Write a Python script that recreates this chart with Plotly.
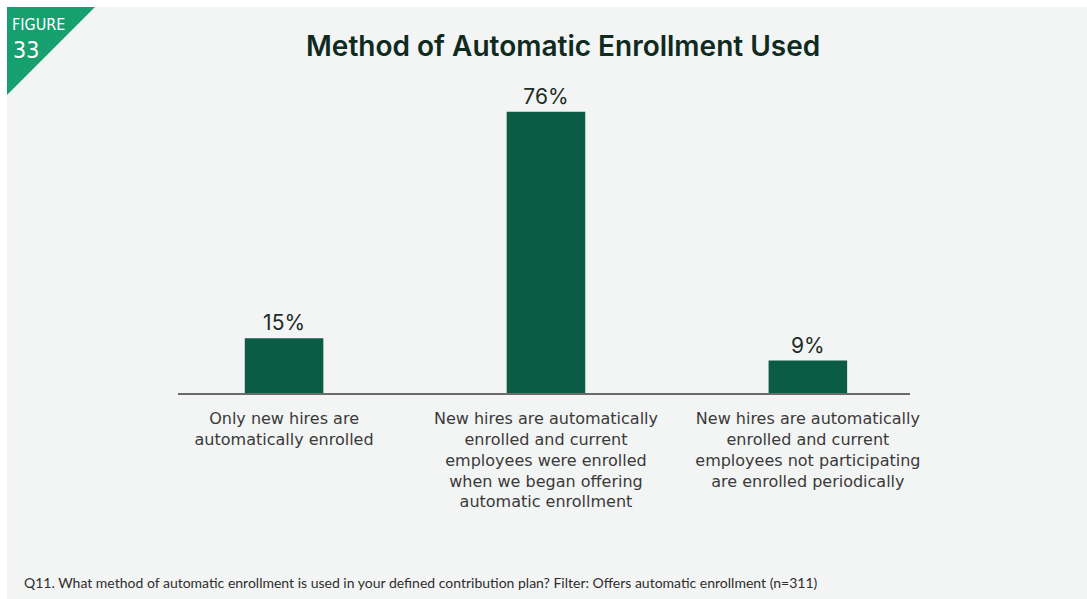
import plotly.graph_objects as go

# Survey results: method of automatic enrollment used
categories = [
    "Only new hires are<br>automatically enrolled",
    "New hires are automatically<br>enrolled and current<br>employees were enrolled<br>when we began offering<br>automatic enrollment",
    "New hires are automatically<br>enrolled and current<br>employees not participating<br>are enrolled periodically",
]
values = [15, 76, 9]
value_labels = [f"{v}%" for v in values]

W, H = 1087, 599
PLOT_L, PLOT_R, PLOT_T, PLOT_B = 178, 910, 97, 394

BAR_COLOR = "#0b5c45"
BADGE_COLOR = "#17a06f"
PANEL_COLOR = "#f3f4f4"


def px_x(px):
    return (px - PLOT_L) / (PLOT_R - PLOT_L)


def px_y(py):
    return (PLOT_B - py) / (PLOT_B - PLOT_T)


fig = go.Figure(
    go.Bar(
        x=[0, 1, 2],
        y=values,
        width=0.30,
        marker=dict(color=BAR_COLOR, line=dict(width=0)),
        text=value_labels,
        textposition="outside",
        textfont=dict(family="Inter, Open Sans, sans-serif", size=21, color="#1b2d24"),
        cliponaxis=False,
        hoverinfo="skip",
    )
)

shapes = [
    # light panel behind the chart
    dict(type="rect", xref="paper", yref="paper", layer="below",
         x0=px_x(7), x1=px_x(W + 5), y0=px_y(H + 5), y1=px_y(7),
         fillcolor=PANEL_COLOR, line=dict(width=0)),
    # figure badge triangle
    dict(type="path", xref="paper", yref="paper", layer="below",
         path=f"M {px_x(7)} {px_y(7)} L {px_x(95)} {px_y(7)} L {px_x(7)} {px_y(95)} Z",
         fillcolor=BADGE_COLOR, line=dict(width=0)),
    # baseline
    dict(type="line", xref="paper", yref="paper", layer="above",
         x0=0, x1=1, y0=0, y1=0, line=dict(color="#6b6b6b", width=2)),
]

annotations = [
    dict(text="FIGURE", xref="paper", yref="paper", x=px_x(10), y=px_y(13),
         xanchor="left", yanchor="top", showarrow=False,
         font=dict(family="DejaVu Sans Condensed, Liberation Sans Narrow, sans-serif",
                   size=16, color="white")),
    dict(text="33", xref="paper", yref="paper", x=px_x(11), y=px_y(35),
         xanchor="left", yanchor="top", showarrow=False,
         font=dict(family="DejaVu Sans Condensed, Roboto, sans-serif", size=23, color="white")),
    dict(text="Method of Automatic Enrollment Used", xref="paper", yref="paper",
         x=px_x(563), y=px_y(46), xanchor="center", yanchor="middle", showarrow=False,
         font=dict(family="Inter, Open Sans, sans-serif", size=28, color="#0f2a1e", weight=600)),
    dict(text="Q11. What method of automatic enrollment is used in your defined contribution plan? Filter: Offers automatic enrollment (n=311)",
         xref="paper", yref="paper", x=px_x(22), y=px_y(582),
         xanchor="left", yanchor="middle", showarrow=False,
         font=dict(family="Lato, sans-serif", size=14, color="#2e2e2e")),
]

fig.update_layout(
    width=W, height=H,
    margin=dict(l=PLOT_L, r=W - PLOT_R, t=PLOT_T, b=H - PLOT_B, pad=0),
    paper_bgcolor="white",
    plot_bgcolor="rgba(0,0,0,0)",
    showlegend=False,
    shapes=shapes,
    annotations=annotations,
    xaxis=dict(
        tickmode="array", tickvals=[0, 1, 2], ticktext=categories,
        range=[-0.405, 2.39], showgrid=False, zeroline=False, showline=False,
        ticks="outside", ticklen=10, tickcolor="rgba(0,0,0,0)",
        tickfont=dict(family="DejaVu Sans, sans-serif", size=16, color="#3a3a3a"),
        fixedrange=True,
    ),
    yaxis=dict(range=[0, 80], visible=False, fixedrange=True),
)

fig.write_html("out.html")
